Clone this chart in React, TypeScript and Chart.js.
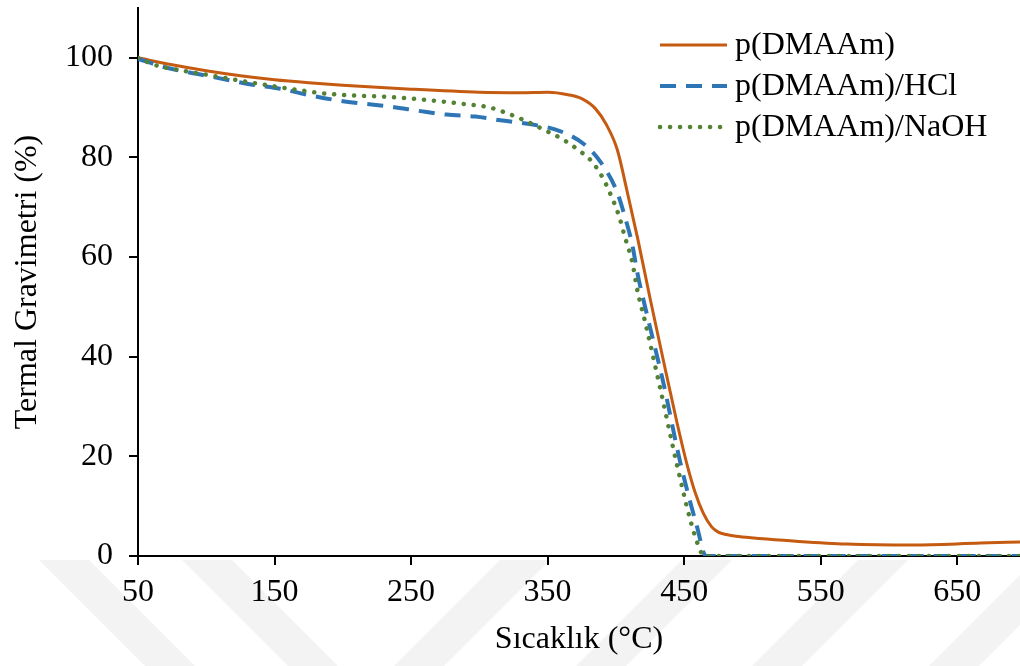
import React, { useEffect, useRef } from "react";
import { Chart, registerables } from "chart.js";

Chart.register(...registerables);

// ---- Data ----
const X_TICKS = [50, 150, 250, 350, 450, 550, 650];
const Y_TICKS = [0, 20, 40, 60, 80, 100];

const SERIES_NAMES = ["p(DMAAm)", "p(DMAAm)/HCl", "p(DMAAm)/NaOH"];

const DMAAM_T = [50, 75, 100, 125, 150, 175, 200, 250, 300, 330, 350, 365, 375, 385, 393, 401, 408, 416, 425, 435, 445, 452, 458, 464, 470, 475, 481, 490, 505, 530, 569, 618, 667, 696];
const DMAAM_V = [100, 98.6, 97.4, 96.4, 95.6, 95.0, 94.5, 93.7, 93.1, 93.0, 93.1, 92.6, 91.8, 89.8, 86.6, 81.6, 73.5, 63.7, 51.8, 39, 26.5, 18.5, 12.8, 8.6, 5.9, 4.8, 4.3, 3.9, 3.5, 3.0, 2.4, 2.2, 2.6, 2.8];

const HCL_T = [50, 71, 93, 115, 134, 154, 174, 193, 215, 235, 257, 276, 297, 317, 339, 359, 377, 389, 401, 407, 412, 416, 421, 435, 447, 459.5, 466, 696];
const HCL_V = [99.8, 98, 96.8, 95.6, 94.6, 93.8, 92.6, 91.6, 90.8, 90.2, 89.3, 88.6, 88.2, 87.4, 86.6, 85.3, 82.6, 79, 73, 67.7, 62.5, 56.5, 50.5, 34.5, 19, 5.8, 0, 0];

const NAOH_T = [50, 62, 83, 105, 125, 147, 166, 188, 210, 230, 259, 287, 308, 321, 335, 347, 360, 372, 383, 391, 397, 402, 407, 412, 416, 421, 433, 445, 458, 465, 696];
const NAOH_V = [100, 98.6, 97.4, 96.4, 95.4, 94.4, 93.6, 92.8, 92.4, 92.2, 91.6, 90.8, 90, 88.8, 87.2, 85.6, 83.8, 81.6, 79, 75.6, 72, 68.5, 63.7, 59, 53, 47.5, 33, 18, 4, 0, 0];

// ---- Styles ----
const FONT = '"Liberation Serif", "Times New Roman", serif';
const COLORS = ["#C55A11", "#2E75B6", "#548235"];
const WIDTHS = [3, 4, 4.5];
const DASHES: number[][] = [[], [16, 10], [0.1, 9.9]];
const CAPS: CanvasLineCap[] = ["butt", "butt", "round"];

// faint background watermark stripes: [x at top, direction (+1 = "\", -1 = "/")]
const STRIPES: [number, number][] = [[39, 1], [182, 1], [500, -1], [682, -1], [858, -1], [1035, -1]];

const toPoints = (t: number[], v: number[]) => t.map((x, i) => ({ x, y: v[i] }));

const watermarkPlugin = {
  id: "watermark",
  beforeDraw(chart: any) {
    const ctx = chart.ctx as CanvasRenderingContext2D;
    ctx.save();
    ctx.fillStyle = "#f3f3f3";
    const y0 = 560, y1 = 666, w = 50;
    STRIPES.forEach(([x, dir]) => {
      const dx = (y1 - y0) * dir;
      ctx.beginPath();
      ctx.moveTo(x, y0);
      ctx.lineTo(x + w, y0);
      ctx.lineTo(x + w + dx, y1);
      ctx.lineTo(x + dx, y1);
      ctx.closePath();
      ctx.fill();
    });
    ctx.restore();
  },
};

const legendPlugin = {
  id: "customLegend",
  afterDraw(chart: any) {
    const ctx = chart.ctx as CanvasRenderingContext2D;
    ctx.save();
    SERIES_NAMES.forEach((name, i) => {
      const y = 45 + i * 41;
      ctx.strokeStyle = COLORS[i];
      ctx.lineWidth = WIDTHS[i];
      ctx.setLineDash(DASHES[i]);
      ctx.lineCap = CAPS[i];
      ctx.beginPath();
      ctx.moveTo(660, y);
      ctx.lineTo(727, y);
      ctx.stroke();
      ctx.setLineDash([]);
      ctx.fillStyle = "#000";
      ctx.font = `32px ${FONT}`;
      ctx.textBaseline = "middle";
      ctx.textAlign = "left";
      ctx.fillText(name, 735, y + 1);
    });
    ctx.restore();
  },
};

export default function App() {
  const canvasRef = useRef<HTMLCanvasElement | null>(null);

  useEffect(() => {
    if (!canvasRef.current) return;
    const datasets = [
      { label: SERIES_NAMES[0], data: toPoints(DMAAM_T, DMAAM_V), order: 2 },
      { label: SERIES_NAMES[1], data: toPoints(HCL_T, HCL_V), order: 1 },
      { label: SERIES_NAMES[2], data: toPoints(NAOH_T, NAOH_V), order: 0 },
    ].map((d, i) => ({
      ...d,
      borderColor: COLORS[i],
      backgroundColor: COLORS[i],
      borderWidth: WIDTHS[i],
      borderDash: DASHES[i],
      borderCapStyle: CAPS[i],
      pointRadius: 0,
      fill: false,
      cubicInterpolationMode: "monotone" as const,
    }));

    const tickFont = { family: FONT, size: 32 };
    const chart = new Chart(canvasRef.current, {
      type: "line",
      data: { datasets },
      options: {
        animation: false,
        responsive: false,
        maintainAspectRatio: false,
        layout: { padding: { left: 0, right: 0, top: 8, bottom: 0 } },
        plugins: { legend: { display: false }, tooltip: { enabled: false } },
        scales: {
          x: {
            type: "linear",
            min: 50,
            max: 696,
            afterBuildTicks: (s: any) => {
              s.ticks = X_TICKS.map((v) => ({ value: v }));
            },
            afterFit: (s: any) => {
              s.height = 110;
              s.paddingLeft = 0;
              s.paddingRight = 0;
            },
            grid: { drawOnChartArea: false, drawTicks: true, tickLength: 9, color: "#000", lineWidth: 2 },
            border: { color: "#000", width: 2 },
            ticks: { color: "#000", font: tickFont, padding: 8, maxRotation: 0, autoSkip: false },
            title: { display: true, text: "Sıcaklık (°C)", color: "#000", font: { family: FONT, size: 32 }, padding: { top: 0, bottom: 7 } },
          },
          y: {
            type: "linear",
            min: 0,
            max: 110,
            afterBuildTicks: (s: any) => {
              s.ticks = Y_TICKS.map((v) => ({ value: v }));
            },
            afterFit: (s: any) => {
              s.width = 138;
              s.paddingTop = 0;
              s.paddingBottom = 0;
            },
            grid: { drawOnChartArea: false, drawTicks: true, tickLength: 9, color: "#000", lineWidth: 2 },
            border: { color: "#000", width: 2 },
            ticks: { color: "#000", font: tickFont, padding: 16, autoSkip: false },
            title: { display: true, text: "Termal Gravimetri (%)", color: "#000", font: { family: FONT, size: 32 }, padding: { top: 8, bottom: 0 } },
          },
        },
      },
      plugins: [watermarkPlugin, legendPlugin],
    });
    return () => chart.destroy();
  }, []);

  return (
    <div style={{ position: "absolute", left: 0, top: 0, width: 1020, height: 666, background: "#fff" }}>
      <canvas ref={canvasRef} width={1020} height={666} style={{ display: "block" }} />
    </div>
  );
}
